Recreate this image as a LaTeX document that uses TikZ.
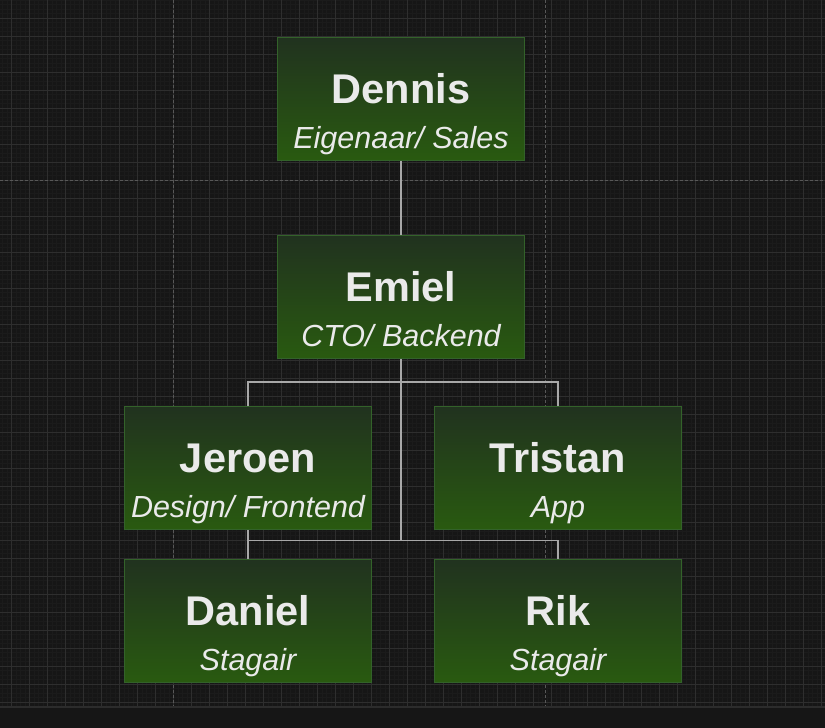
\documentclass[tikz,border=0pt]{standalone}
\usepackage{fontspec}
\setmainfont{Liberation Sans}
\usetikzlibrary{calc}
\definecolor{bgc}{HTML}{161616}
\definecolor{minorc}{HTML}{1B1B1B}
\definecolor{majorc}{HTML}{2E2E2E}
\definecolor{pagec}{HTML}{585858}
\definecolor{stripc}{HTML}{161616}
\definecolor{stripl}{HTML}{2C2C2C}
\definecolor{boxtop}{HTML}{21321F}
\definecolor{boxbot}{HTML}{295A10}
\definecolor{boxline}{HTML}{33622A}
\definecolor{txtc}{HTML}{EAEAEA}
\definecolor{edgec}{HTML}{A8A8A8}
\pgfdeclarelayer{bg}
\pgfdeclarelayer{edges}
\pgfsetlayers{bg,edges,main}
\tikzset{
  pbox/.style={draw=boxline, line width=1pt, top color=boxtop, bottom color=boxbot,
    minimum width=247pt, minimum height=123pt, inner sep=0pt},
  ptitle/.style={text=txtc, font=\fontsize{41.5}{48}\selectfont\bfseries, inner sep=0pt},
  prole/.style={text=txtc, font=\fontsize{30.5}{36}\selectfont\itshape, inner sep=0pt},
  edge/.style={draw=edgec, line width=1.2pt},
  minorline/.style={draw=minorc, line width=0.6pt},
  majorline/.style={draw=majorc, line width=1pt},
  pageline/.style={draw=pagec, line width=1pt, dash pattern=on 3pt off 2pt}
}
\newcommand{\orgbox}[5]{%
  \node[pbox, anchor=north] (#1) at (#2,#3) {};
  \node[ptitle, anchor=base] (#1-t) at (#2,#3+66.5) {#4};
  \node[prole, anchor=base] (#1-r) at (#2,#3+111.5) {#5};
}
\begin{document}
\begin{tikzpicture}[x=1pt, y=-1pt]
\useasboundingbox (0,0) rectangle (825,728);
\begin{pgfonlayer}{bg}
  \fill[bgc] (0,0) rectangle (825,728);
  \foreach \i in {0,...,183} {
    \draw[minorline] ({2.5+4.5*\i},0) -- ({2.5+4.5*\i},706);
  }
  \foreach \i in {0,...,157} {
    \draw[minorline] (0,{4.5*\i}) -- (825,{4.5*\i});
  }
  \foreach \i in {0,...,45} {
    \draw[majorline] ({11.5+18*\i},0) -- ({11.5+18*\i},706);
  }
  \foreach \i in {1,...,39} {
    \draw[majorline] (0,{18*\i}) -- (825,{18*\i});
  }
  \draw[pageline] (173.5,0) -- (173.5,706);
  \draw[pageline] (545.5,0) -- (545.5,706);
  \draw[pageline] (0,180) -- (825,180);
  \fill[stripc] (0,707) rectangle (825,728);
  \draw[stripl, line width=1.5pt] (0,707) -- (825,707);
\end{pgfonlayer}

\orgbox{dennis}{401}{36.5}{Dennis}{Eigenaar/ Sales}
\orgbox{emiel}{401}{235}{Emiel}{CTO/ Backend}
\orgbox{jeroen}{248}{405.5}{Jeroen}{Design/ Frontend}
\orgbox{tristan}{558}{405.5}{Tristan}{App}
\orgbox{daniel}{248}{558.5}{Daniel}{Stagair}
\orgbox{rik}{558}{558.5}{Rik}{Stagair}

\coordinate (busA) at (401,382);
\coordinate (busB) at (401,540.5);
\begin{pgfonlayer}{edges}
  \draw[edge] (dennis.south) -- (emiel.north);
  \draw[edge] (emiel.south) -- (busA) -| (jeroen.north);
  \draw[edge] (emiel.south) -- (busA) -| (tristan.north);
  \draw[edge] (emiel.south) -- (busB) -| (daniel.north);
  \draw[edge] (emiel.south) -- (busB) -| (rik.north);
  \draw[edge] (jeroen.south) -- (daniel.north);
\end{pgfonlayer}
\end{tikzpicture}
\end{document}
